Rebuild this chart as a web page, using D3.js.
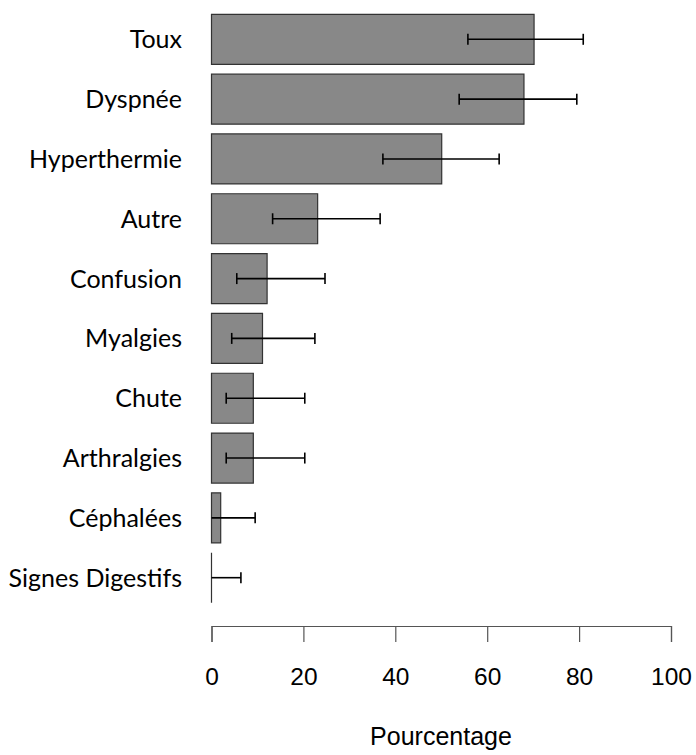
<!DOCTYPE html>
<html><head><meta charset="utf-8">
<script src="https://cdn.jsdelivr.net/npm/d3@7"></script>
<style>body{margin:0;background:#fff}</style>
</head><body>
<svg id="c" width="696" height="755"></svg>
<script>
const categories = ["Toux","Dyspnée","Hyperthermie","Autre","Confusion","Myalgies","Chute","Arthralgies","Céphalées","Signes Digestifs"];
const values = [70.2, 68.0, 50.1, 23.1, 12.1, 11.1, 9.1, 9.1, 2.0, 0];
const lower  = [55.8, 53.9, 37.3, 13.3, 5.5, 4.4, 3.2, 3.2, 0, 0];
const upper  = [80.9, 79.5, 62.6, 36.7, 24.7, 22.5, 20.3, 20.3, 9.5, 6.4];
const xTicks = [0,20,40,60,80,100];

const svg = d3.select("#c");
const x = d3.scaleLinear().domain([0,100]).range([211.5,671]);
const y = d3.scaleBand().domain(categories).range([9.4,607.6]).paddingInner(0.164).paddingOuter(0.082);

const data = categories.map((c,i)=>({c, v:values[i], lo:lower[i], hi:upper[i]}));

// bars
svg.append("g").selectAll("path").data(data).join("path")
  .attr("d", d=>{const x0=x(0), x1=x(d.v), y0=y(d.c), h=y.bandwidth();
    return `M${x0},${y0}H${x1}V${y0+h}H${x0}Z`;})
  .attr("fill","#888888").attr("stroke","#333").attr("stroke-width",1.2);

// error bars
const eb = svg.append("g").attr("stroke","#000").attr("stroke-width",1.6).attr("fill","none");
data.forEach(d=>{
  const cy = y(d.c)+y.bandwidth()/2;
  eb.append("line").attr("x1",x(d.lo)).attr("x2",x(d.hi)).attr("y1",cy).attr("y2",cy);
  if(d.lo>0) eb.append("line").attr("x1",x(d.lo)).attr("x2",x(d.lo)).attr("y1",cy-5.5).attr("y2",cy+5.5);
  eb.append("line").attr("x1",x(d.hi)).attr("x2",x(d.hi)).attr("y1",cy-5.5).attr("y2",cy+5.5);
});

// category labels
svg.append("g").selectAll("text").data(categories).join("text")
  .attr("x",182).attr("y",c=>y(c)+y.bandwidth()/2+9)
  .attr("text-anchor","end")
  .style("font-family","Lato, 'Open Sans', sans-serif").style("font-size","25px").attr("fill","#000")
  .text(c=>c);

// x axis
const ax = svg.append("g").attr("transform","translate(0,626)")
  .call(d3.axisBottom(x).tickValues(xTicks).tickSize(16).tickPadding(0).tickFormat(d3.format("d")));
ax.select(".domain").attr("stroke","#555").attr("stroke-width",1.2);
ax.selectAll(".tick line").attr("stroke","#555").attr("stroke-width",1.2);
ax.selectAll(".tick text").attr("y",59).attr("dy",0)
  .style("font-family","'Liberation Sans', Arial, sans-serif").style("font-size","24.5px").attr("fill","#000");

svg.append("text").attr("x",441).attr("y",745).attr("text-anchor","middle")
  .style("font-family","'Liberation Sans', Arial, sans-serif").style("font-size","25px").attr("fill","#000")
  .text("Pourcentage");
</script>
</body></html>
